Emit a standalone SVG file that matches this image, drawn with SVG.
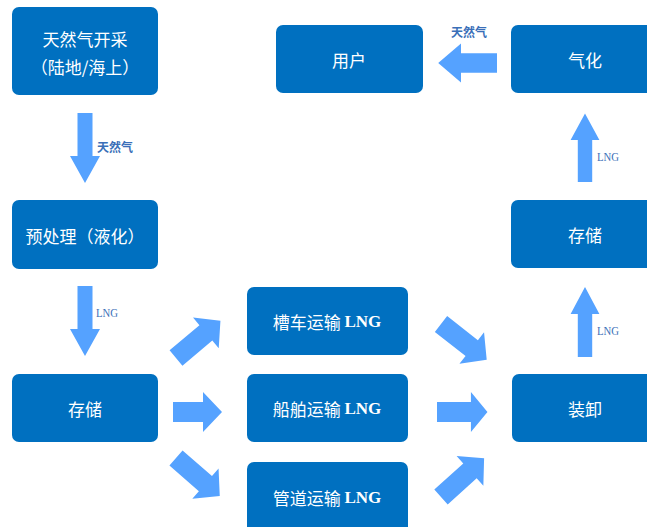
<svg xmlns="http://www.w3.org/2000/svg" width="647" height="527" viewBox="0 0 647 527">
<style>
.box{fill:#0070C0;}
.t{fill:#fff;font-family:"Noto Sans CJK SC","Noto Sans",sans-serif;font-size:17px;text-anchor:middle;dominant-baseline:central;}
.lng{font-family:"Liberation Serif",serif;font-weight:bold;}
.arr{fill:#55A2FF;}
.lbl{fill:#3A6FB8;font-family:"Liberation Serif",serif;font-size:13px;}
.lblc{fill:#3A6FB8;font-family:"Noto Sans CJK SC",sans-serif;font-size:12px;font-weight:bold;}
</style>
<defs>
<polygon id="ah" points="0,-10 39,-10 39,-20 58,0 39,20 39,10 0,10"/>
<polygon id="ah2" points="0,-10 30,-10 30,-20 49,0 30,20 30,10 0,10"/>
</defs>
<rect width="647" height="527" fill="#fff"/>
<g id="n1"><rect class="box" x="12" y="7" width="146" height="88" rx="7"/><text class="t" x="85" y="38">天然气开采</text><text class="t" x="85" y="66">（陆地/海上）</text></g>
<g id="n2"><rect class="box" x="12" y="200" width="146" height="69" rx="7"/><text class="t" x="85" y="235">预处理（液化）</text></g>
<g id="n3"><rect class="box" x="12" y="374" width="146" height="68" rx="7"/><text class="t" x="85" y="408">存储</text></g>
<g id="n4"><rect class="box" x="247" y="287" width="161" height="68" rx="7"/><text class="t" x="327" y="321">槽车运输 <tspan class="lng">LNG</tspan></text></g>
<g id="n5"><rect class="box" x="247" y="374" width="161" height="68" rx="7"/><text class="t" x="327" y="408">船舶运输 <tspan class="lng">LNG</tspan></text></g>
<g id="n6"><rect class="box" x="247" y="462" width="161" height="72" rx="7"/><text class="t" x="327" y="497">管道运输 <tspan class="lng">LNG</tspan></text></g>
<g id="n7"><rect class="box" x="512" y="374" width="142" height="68" rx="7"/><text class="t" x="585" y="408">装卸</text></g>
<g id="n8"><rect class="box" x="511" y="200" width="143" height="68" rx="7"/><text class="t" x="585" y="234">存储</text></g>
<g id="n9"><rect class="box" x="511" y="25" width="143" height="68" rx="7"/><text class="t" x="585" y="59">气化</text></g>
<g id="n10"><rect class="box" x="276" y="25" width="147" height="68" rx="7"/><text class="t" x="349" y="59">用户</text></g>
<g id="connectors">
<use href="#ah2" class="arr" transform="translate(85,113) rotate(90) scale(1.43,0.75)"/>
<text class="lblc" x="97" y="152">天然气</text>
<use href="#ah2" class="arr" transform="translate(85,286) rotate(90) scale(1.43,0.75)"/>
<text class="lbl" x="96" y="317" textLength="22" lengthAdjust="spacingAndGlyphs">LNG</text>
<use href="#ah" class="arr" transform="translate(176,358) rotate(-40)"/>
<use href="#ah2" class="arr" transform="translate(173,412)"/>
<use href="#ah" class="arr" transform="translate(176,458) rotate(41)"/>
<use href="#ah" class="arr" transform="translate(441,324) rotate(38)"/>
<use href="#ah" class="arr" transform="translate(437,412) scale(0.87,1)"/>
<use href="#ah" class="arr" transform="translate(441,497) rotate(-42)"/>
<use href="#ah2" class="arr" transform="translate(585,357) rotate(-90) scale(1.43,0.72)"/>
<text class="lbl" x="597" y="335" textLength="22" lengthAdjust="spacingAndGlyphs">LNG</text>
<use href="#ah2" class="arr" transform="translate(585,182) rotate(-90) scale(1.4,0.72)"/>
<text class="lbl" x="597" y="161" textLength="22" lengthAdjust="spacingAndGlyphs">LNG</text>
<use href="#ah2" class="arr" transform="translate(497,63) rotate(180) scale(1.2,0.97)"/>
<text class="lblc" x="451" y="37">天然气</text>
</g>
</svg>
